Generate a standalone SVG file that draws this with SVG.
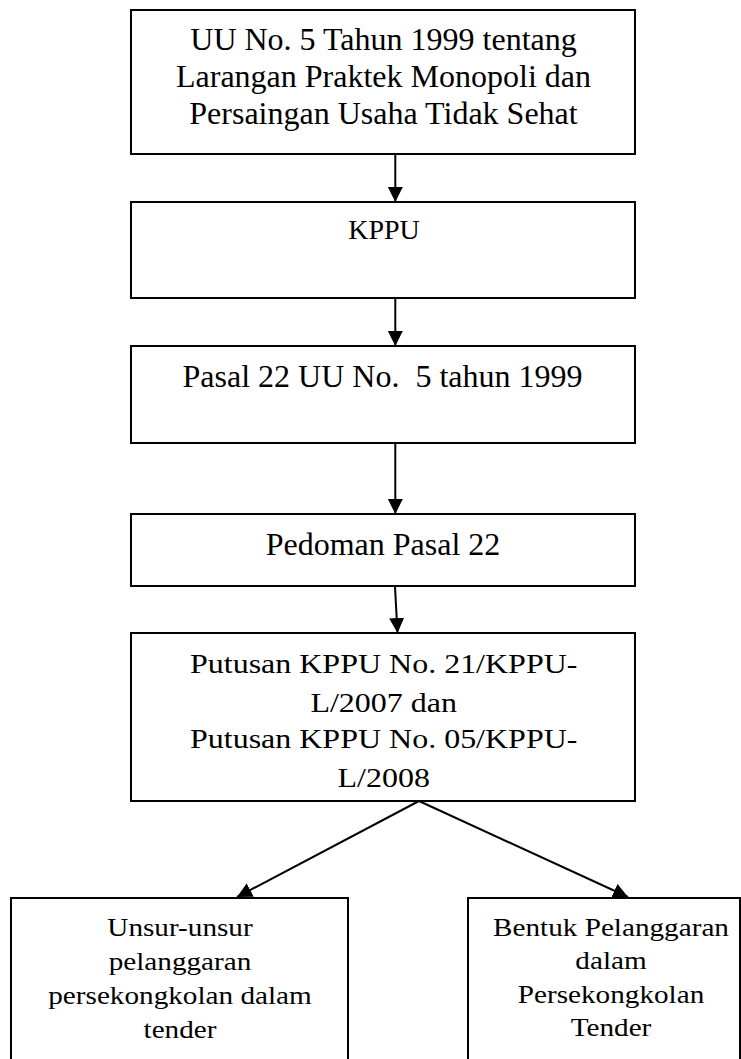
<svg xmlns="http://www.w3.org/2000/svg" width="741" height="1059" viewBox="0 0 741 1059">
<style>
.box{fill:#fff;stroke:#000;stroke-width:2}
.t{font-family:"Liberation Serif","Times New Roman",serif;fill:#000;text-anchor:middle}
.t32{font-size:32px}
.t28{font-size:28px}
.t29{font-size:29.2px}
.c{fill:none;stroke:#000;stroke-width:2}
</style>
<defs>
<marker id="ah" markerUnits="userSpaceOnUse" markerWidth="16" markerHeight="16" refX="15" refY="7.5" orient="auto">
<path d="M0,0 L15,7.5 L0,15 z" fill="#000"/>
</marker>
</defs>
<rect width="741" height="1059" fill="#fff"/>
<g id="n1">
<rect class="box" x="131" y="10" width="504" height="144"/>
<text class="t t32" x="383.5" y="50">UU No. 5 Tahun 1999 tentang</text>
<text class="t t32" x="383.5" y="87.3">Larangan Praktek Monopoli dan</text>
<text class="t t32" x="383.5" y="124">Persaingan Usaha Tidak Sehat</text>
</g>
<g id="n2">
<rect class="box" x="131" y="202" width="504" height="96"/>
<text class="t t28" x="384" y="239.3">KPPU</text>
</g>
<g id="n3">
<rect class="box" x="131" y="346" width="504" height="97"/>
<text class="t t32" x="382.5" y="387.3" xml:space="preserve">Pasal 22 UU No.  5 tahun 1999</text>
</g>
<g id="n4">
<rect class="box" x="131" y="514" width="504" height="72"/>
<text class="t t32" x="383" y="555">Pedoman Pasal 22</text>
</g>
<g id="n5">
<rect class="box" x="131" y="633" width="504" height="168"/>
<text class="t t32" transform="translate(383.7,673.3) scale(1,0.865)">Putusan KPPU No. 21/KPPU-</text>
<text class="t t32" transform="translate(383.7,711.7) scale(1,0.865)">L/2007 dan</text>
<text class="t t32" transform="translate(383.7,748.3) scale(1,0.865)">Putusan KPPU No. 05/KPPU-</text>
<text class="t t32" transform="translate(383.7,786.7) scale(1,0.865)">L/2008</text>
</g>
<g id="n6">
<rect class="box" x="11" y="898" width="337" height="180"/>
<text class="t t29" transform="translate(180,936) scale(1,0.83)">Unsur-unsur</text>
<text class="t t29" transform="translate(180,970) scale(1,0.83)">pelanggaran</text>
<text class="t t29" transform="translate(180,1004) scale(1,0.83)">persekongkolan dalam</text>
<text class="t t29" transform="translate(180,1038) scale(1,0.83)">tender</text>
</g>
<g id="n7">
<rect class="box" x="468" y="898" width="272" height="180"/>
<text class="t t29" transform="translate(611,935.5) scale(1,0.83)">Bentuk Pelanggaran</text>
<text class="t t29" transform="translate(611,969) scale(1,0.83)">dalam</text>
<text class="t t29" transform="translate(611,1002.5) scale(1,0.83)">Persekongkolan</text>
<text class="t t29" transform="translate(611,1036) scale(1,0.83)">Tender</text>
</g>
<g id="connectors">
<line class="c" x1="395.3" y1="155" x2="395.3" y2="202" marker-end="url(#ah)"/>
<line class="c" x1="395.3" y1="299" x2="395.3" y2="346" marker-end="url(#ah)"/>
<line class="c" x1="395.3" y1="444" x2="395.3" y2="514" marker-end="url(#ah)"/>
<line class="c" x1="395" y1="587" x2="397.5" y2="633" marker-end="url(#ah)"/>
<line class="c" x1="419" y1="801" x2="237" y2="897" marker-end="url(#ah)"/>
<line class="c" x1="419" y1="801" x2="628" y2="897" marker-end="url(#ah)"/>
</g>
</svg>
